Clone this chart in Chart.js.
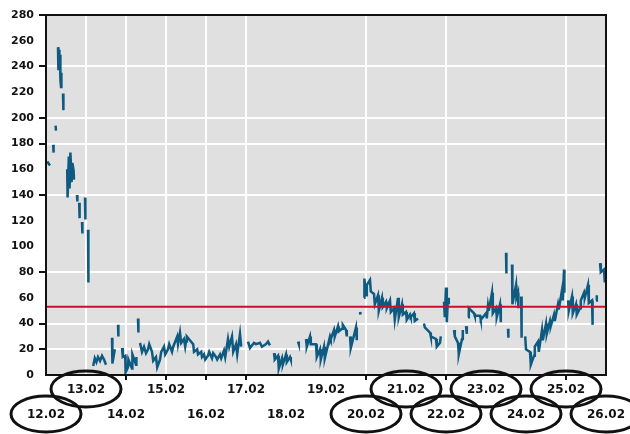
<!DOCTYPE html>
<html>
<head>
<meta charset="utf-8">
<script src="https://cdn.jsdelivr.net/npm/chart.js@4.4.1/dist/chart.umd.min.js"></script>
<style>
  html, body { margin: 0; padding: 0; background: #fff; }
  #wrap { width: 630px; height: 434px; position: relative; }
</style>
</head>
<body>
<div id="wrap"><canvas id="levelChart"></canvas></div>
<script>
// Day labels along the x axis (12.02 = day 0)
const dayLabels = ['12.02', '13.02', '14.02', '15.02', '16.02', '17.02', '18.02', '19.02',
                   '20.02', '21.02', '22.02', '23.02', '24.02', '25.02', '26.02'];
const gridDays = [1, 2, 3, 4, 5, 8, 10, 13];
const tickDays = [2, 3, 4, 5, 8, 10, 13];
const circledDays = [0, 1, 8, 9, 10, 11, 12, 13, 14];

// Y axis tick values that carry a grid line
const gridLevels = [20, 40, 80, 140, 180, 200, 240];
const tickLevels = [20, 40, 80, 140, 180, 200, 240, 280];

const thresholdLevel = 53;

// Trace, one segment per line, null = gap
const traceDays = [
  0.03, 0.1, 0.1,
  0.18, 0.19, 0.19,
  0.24, 0.25, 0.25,
  0.30, 0.31, 0.325, 0.335, 0.35, 0.36, 0.375, 0.385, 0.385,
  0.425, 0.435, 0.435,
  0.53, 0.54, 0.57, 0.59, 0.61, 0.64, 0.66, 0.69, 0.70, 0.70,
  0.775, 0.785, 0.785,
  0.83, 0.84, 0.84,
  0.9, 0.91, 0.91,
  0.975, 0.985, 0.985,
  1.05, 1.06, 1.06,
  1.18, 1.22, 1.26, 1.3, 1.35, 1.4, 1.45, 1.5, 1.5,
  1.65, 1.66, 1.72, 1.72,
  1.8, 1.81, 1.81,
  1.9, 1.92, 1.98, 1.99, 2.05, 2.06, 2.15, 2.16, 2.25, 2.26, 2.26,
  2.3, 2.31, 2.31,
  2.35, 2.4, 2.45, 2.5, 2.55, 2.58, 2.65, 2.68, 2.75, 2.78, 2.85, 2.88, 2.95, 2.98,
  3.05, 3.08, 3.15, 3.18, 3.28, 3.3, 3.35, 3.38, 3.45, 3.48, 3.5, 3.52, 3.68, 3.7,
  3.78, 3.8, 3.88, 3.9, 3.95, 3.98, 4.05, 4.08, 4.15, 4.18, 4.25, 4.28, 4.35, 4.38,
  4.45, 4.48, 4.55, 4.58, 4.65, 4.68, 4.75, 4.78, 4.85, 4.88, 4.88,
  5.05, 5.1, 5.2, 5.25, 5.35, 5.4, 5.5, 5.55, 5.6, 5.6,
  5.7, 5.72, 5.8, 5.82, 5.9, 5.92, 6.0, 6.02, 6.1, 6.12, 6.12,
  6.3, 6.32, 6.32,
  6.5, 6.52, 6.6, 6.62, 6.75, 6.77, 6.85, 6.87, 6.95, 6.97, 7.1, 7.12, 7.2, 7.22,
  7.3, 7.32, 7.4, 7.42, 7.5, 7.52, 7.52,
  7.6, 7.62, 7.75, 7.77, 7.77,
  7.85, 7.86, 7.86,
  7.95, 7.96, 8.0, 8.02, 8.1, 8.12, 8.2, 8.22, 8.3, 8.32, 8.4, 8.42, 8.5, 8.52,
  8.6, 8.62, 8.7, 8.72, 8.8, 8.82, 8.9, 8.92, 9.0, 9.02, 9.1, 9.12, 9.2, 9.22, 9.3, 9.3,
  9.45, 9.47, 9.6, 9.62, 9.75, 9.77, 9.85, 9.87, 9.87,
  9.95, 9.97, 10.0, 10.02, 10.05, 10.07, 10.07,
  10.2, 10.22, 10.3, 10.32, 10.4, 10.42, 10.42,
  10.5, 10.52, 10.52,
  10.55, 10.57, 10.7, 10.72, 10.85, 10.87, 11.0, 11.02, 11.05, 11.07, 11.15, 11.17,
  11.25, 11.27, 11.35, 11.37, 11.37,
  11.5, 11.51, 11.51,
  11.55, 11.56, 11.56,
  11.65, 11.66, 11.75, 11.76, 11.8, 11.81, 11.81,
  11.88, 11.89, 11.89,
  11.98, 12.0, 12.1, 12.12, 12.2, 12.22, 12.3, 12.32, 12.4, 12.42, 12.5, 12.52,
  12.6, 12.62, 12.7, 12.72, 12.8, 12.82, 12.9, 12.92, 12.95, 12.96, 12.96,
  13.05, 13.07, 13.15, 13.17, 13.25, 13.27, 13.35, 13.37, 13.45, 13.47, 13.55, 13.57,
  13.65, 13.66, 13.67, 13.67,
  13.75, 13.77, 13.77,
  13.85, 13.87, 13.95, 13.97
];
const traceLevels = [
  166, 163, null,
  179, 173, null,
  194, 190, null,
  255, 237, 253, 240, 249, 230, 224, 235, null,
  219, 206, null,
  160, 138, 170, 145, 173, 150, 165, 159, 152, null,
  140, 135, null,
  134, 122, null,
  119, 110, null,
  138, 121, null,
  113, 72, null,
  7, 13, 10, 14, 11, 15, 12, 8, null,
  29, 9, 20, null,
  39, 30, null,
  21, 14, 15, 2, 6, 12, 5, 16, 8, 14, null,
  44, 33, null,
  25, 18, 22, 17, 20, 24, 18, 11, 14, 6, 12, 18, 22, 16,
  20, 24, 18, 22, 30, 24, 33, 25, 28, 22, 26, 30, 24, 18,
  20, 16, 18, 14, 16, 12, 15, 18, 13, 17, 14, 12, 16, 13,
  19, 14, 28, 22, 30, 18, 24, 16, 32, 22, null,
  26, 21, 25, 24, 25, 22, 24, 26, 23, null,
  17, 12, 15, 5, 13, 8, 16, 10, 14, 12, null,
  26, 24, null,
  28, 22, 30, 24, 24, 14, 20, 12, 22, 13, 30, 28, 35, 30,
  38, 34, 36, 39, 35, 30, null,
  30, 21, 37, 27, null,
  49, 47, null,
  60, 75, 62, 70, 74, 65, 63, 55, 62, 50, 60, 53, 57, 52,
  58, 49, 52, 43, 60, 45, 55, 47, 49, 43, 47, 45, 48, 42, 44, null,
  40, 37, 33, 30, 28, 22, 25, 30, null,
  57, 45, 68, 41, 60, 55, null,
  35, 30, 25, 16, 28, 35, null,
  38, 32, null,
  45, 52, 48, 46, 46, 43, 48, 44, 54, 50, 64, 48,
  52, 45, 55, 41, null,
  95, 79, null,
  36, 29, null,
  86, 55, 70, 60, 64, 52, null,
  61, 29, null,
  30, 20, 18, 8, 15, 22, 26, 18, 35, 27, 40, 32,
  42, 38, 47, 42, 55, 51, 66, 58, 82, 64, null,
  58, 50, 61, 48, 55, 47, 52, 58, 64, 60, 70, 56,
  58, 49, 39, null,
  58, 62, null,
  87, 80, 82, 72
];

const tracePoints = traceDays.map((d, i) => ({ x: d, y: traceLevels[i] }));

// Grey panel, black frame and the circled day labels
const plotFrame = {
  id: 'plotFrame',
  beforeDraw(chart) {
    const { ctx, chartArea: a } = chart;
    ctx.save();
    ctx.fillStyle = '#e0e0e0';
    ctx.fillRect(a.left, a.top, a.right - a.left, a.bottom - a.top);
    ctx.restore();
  },
  afterDraw(chart) {
    const { ctx, chartArea: a, scales } = chart;
    ctx.save();
    ctx.strokeStyle = '#111';
    ctx.lineWidth = 2;
    ctx.strokeRect(a.left, a.top, a.right - a.left, a.bottom - a.top);
    ctx.lineWidth = 3;
    circledDays.forEach(i => {
      const x = scales.x.getPixelForValue(i);
      const y = i % 2 === 0 ? a.bottom + 39 : a.bottom + 14;
      ctx.beginPath();
      ctx.ellipse(x, y, 35, 18, 0, 0, Math.PI * 2);
      ctx.stroke();
    });
    ctx.restore();
  }
};

const tickFont = { family: 'DejaVu Sans', size: 11, weight: 'bold' };

new Chart(document.getElementById('levelChart'), {
  type: 'line',
  data: {
    datasets: [{
      label: 'Threshold',
      data: [{ x: 0, y: thresholdLevel }, { x: 14, y: thresholdLevel }],
      borderColor: '#c8102e',
      borderWidth: 2,
      pointRadius: 0,
      order: 0
    }, {
      label: 'Level',
      data: tracePoints,
      borderColor: '#0e5a80',
      borderWidth: 2.5,
      pointRadius: 0,
      spanGaps: false,
      tension: 0,
      order: 1
    }]
  },
  options: {
    responsive: true,
    maintainAspectRatio: false,
    animation: false,
    layout: { padding: { top: 15, right: 24, left: 0, bottom: 0 } },
    plugins: { legend: { display: false }, tooltip: { enabled: false } },
    scales: {
      x: {
        type: 'linear',
        min: 0,
        max: 14,
        afterFit: axis => { axis.height = 59; },
        afterBuildTicks: axis => {
          axis.ticks = dayLabels.map((_, i) => ({ value: i }));
        },
        border: { color: '#111', width: 2 },
        grid: {
          color: c => (c.tick && gridDays.includes(c.tick.value)) ? '#ffffff' : 'rgba(0,0,0,0)',
          tickColor: c => (c.tick && tickDays.includes(c.tick.value)) ? '#111' : 'rgba(0,0,0,0)',
          lineWidth: 2,
          tickLength: 5,
          tickWidth: 2
        },
        ticks: {
          autoSkip: false,
          maxRotation: 0,
          padding: -3,
          color: '#111',
          font: Object.assign({ lineHeight: '25px' }, tickFont, { size: 12 }),
          callback: (value, index) => {
            const text = dayLabels[index];
            return index % 2 === 0 ? ['', text] : [text, ''];
          }
        }
      },
      y: {
        min: 0,
        max: 280,
        afterFit: axis => { axis.width = 46; },
        border: { color: '#111', width: 2 },
        grid: {
          color: c => (c.tick && gridLevels.includes(c.tick.value)) ? '#ffffff' : 'rgba(0,0,0,0)',
          tickColor: c => (c.tick && tickLevels.includes(c.tick.value)) ? '#111' : 'rgba(0,0,0,0)',
          lineWidth: 2,
          tickLength: 7,
          tickWidth: 2
        },
        ticks: {
          stepSize: 20,
          padding: 5,
          color: '#111',
          font: tickFont
        }
      }
    }
  },
  plugins: [plotFrame]
});
</script>
</body>
</html>
